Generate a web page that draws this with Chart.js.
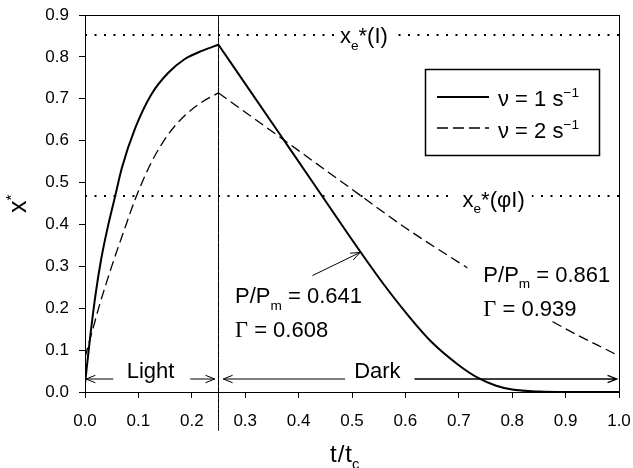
<!DOCTYPE html>
<html>
<head>
<meta charset="utf-8">
<script src="https://cdn.jsdelivr.net/npm/chart.js@4.4.1/dist/chart.umd.min.js"></script>
<style>
    body { margin: 0; background: #fff; }
    #wrap { width: 633px; height: 468px; }
</style>
</head>
<body>
<div id="wrap"><canvas id="graph" width="633" height="468"></canvas></div>
<script>
// valeurs (t/tc , x*)
const tSolidLight = [0, 0.01, 0.02, 0.03, 0.042, 0.056, 0.069, 0.094, 0.125, 0.156, 0.187, 0.22, 0.25];
const xSolidLight = [0.02, 0.135, 0.235, 0.315, 0.39, 0.465, 0.535, 0.63, 0.712, 0.762, 0.795, 0.815, 0.829];
const tSolidDark = [0.25, 0.371, 0.421, 0.515, 0.56, 0.605, 0.65, 0.70, 0.737, 0.77, 0.80, 0.85, 0.90, 1.0];
const xSolidDark = [0.829, 0.604, 0.511, 0.336, 0.256, 0.183, 0.118, 0.064, 0.033, 0.015, 0.006, 0.001, 0, 0];

const tDashLight = [0, 0.014, 0.025, 0.05, 0.073, 0.094, 0.125, 0.156, 0.187, 0.22, 0.25];
const xDashLight = [0.083, 0.147, 0.198, 0.30, 0.385, 0.46, 0.55, 0.615, 0.66, 0.693, 0.714];
const tDashDark = [0.25, 0.371, 0.515, 0.60, 0.708, 0.877, 1.0];
const xDashDark = [0.714, 0.603, 0.47, 0.392, 0.303, 0.167, 0.086];

const seriesLabels = ['ν = 1 s', 'ν = 2 s'];
const xeLevels = [0.852, 0.468];
const tSwitch = 0.25;

const FONT = '"Liberation Sans", Arial, sans-serif';
const SERIF = '"Liberation Serif", "Times New Roman", serif';

function toPoints(ts, xs) {
    let pts = [];
    for (let i = 0; i < ts.length; i++) {
        pts.push({ x: ts[i], y: xs[i] });
    }
    return pts;
}

// texte avec indices / exposants
function richText(ctx, x, y, parts, size, draw) {
    let cx = x;
    parts.forEach(p => {
        const kind = p[1] || '';
        let s = size, dy = 0, fam = FONT;
        if (kind === 'sub') { s = size * 0.62; dy = size * 0.3; }
        if (kind === 'sup') { s = size * 0.62; dy = -size * 0.42; }
        if (kind === 'serif') { fam = SERIF; s = size * 1.02; }
        ctx.font = s + 'px ' + fam;
        if (draw !== false) ctx.fillText(p[0], cx, y + dy);
        cx += ctx.measureText(p[0]).width + (p[2] || 0);
    });
    return cx - x;
}

function arrow(ctx, x1, y1, x2, y2) {
    const a = Math.atan2(y2 - y1, x2 - x1);
    const len = 10, w = 0.38;
    ctx.beginPath();
    ctx.moveTo(x1, y1);
    ctx.lineTo(x2, y2);
    ctx.moveTo(x2 - len * Math.cos(a - w), y2 - len * Math.sin(a - w));
    ctx.lineTo(x2, y2);
    ctx.lineTo(x2 - len * Math.cos(a + w), y2 - len * Math.sin(a + w));
    ctx.stroke();
}

const decor = {
    id: 'decor',
    afterDatasetsDraw(chart) {
        const ctx = chart.ctx;
        const sx = chart.scales.x, sy = chart.scales.y;
        const px = v => sx.getPixelForValue(v);
        const py = v => sy.getPixelForValue(v);
        const area = chart.chartArea;

        ctx.save();
        ctx.fillStyle = '#000';
        ctx.strokeStyle = '#000';
        ctx.textBaseline = 'alphabetic';
        ctx.textAlign = 'left';

        // étiquettes avec fond blanc
        function label(t, v, parts, size, pad) {
            const x = px(t), y = py(v);
            const w = richText(ctx, x, y, parts, size, false);
            if (pad) {
                ctx.fillStyle = '#fff';
                ctx.fillRect(x - pad[0], y - size * 0.95, w + pad[0] + pad[1], size * 1.35);
                ctx.fillStyle = '#000';
            }
            richText(ctx, x, y, parts, size);
        }

        label(0.4775, 0.832, [['x'], ['e', 'sub'], ['*(I)']], 22, [6, 6]);
        label(0.707, 0.442, [['x'], ['e', 'sub'], ['*(φI)']], 22, [8, 7]);

        label(0.281, 0.212, [['P/P'], ['m', 'sub'], [' = 0.641']], 22);
        label(0.281, 0.132, [['Γ', 'serif'], [' = 0.608']], 22);

        // bloc 0.861 : masque la courbe pointillée
        ctx.fillStyle = '#fff';
        ctx.fillRect(px(0.716), py(0.31), px(0.995) - px(0.716), py(0.172) - py(0.31));
        ctx.fillStyle = '#000';
        label(0.746, 0.263, [['P/P'], ['m', 'sub'], [' = 0.861']], 22);
        label(0.746, 0.181, [['Γ', 'serif'], [' = 0.939']], 22);

        label(0.078, 0.033, [['Light']], 22);
        label(0.504, 0.033, [['Dark']], 22);

        // flèches
        ctx.lineWidth = 1;
        const ya = py(0.031);
        arrow(ctx, px(0.053), ya, px(0.002), ya);
        arrow(ctx, px(0.197), ya, px(0.243), ya);
        arrow(ctx, px(0.487), ya, px(0.259), ya);
        ctx.lineWidth = 1.3;
        arrow(ctx, px(0.617), ya, px(0.996), ya);
        ctx.lineWidth = 1;
        arrow(ctx, px(0.426), py(0.278), px(0.515), py(0.333));

        // légende
        const lx = 425, ly = 69;
        ctx.lineWidth = 1.5;
        ctx.strokeRect(lx + 0.5, ly + 0.5, 174, 86);
        ctx.lineWidth = 2;
        ctx.beginPath();
        ctx.moveTo(lx + 12, ly + 28);
        ctx.lineTo(lx + 64, ly + 28);
        ctx.stroke();
        ctx.lineWidth = 1.3;
        ctx.setLineDash([11, 5]);
        ctx.beginPath();
        ctx.moveTo(lx + 12, ly + 59);
        ctx.lineTo(lx + 64, ly + 59);
        ctx.stroke();
        ctx.setLineDash([]);
        richText(ctx, lx + 73, ly + 37, [[seriesLabels[0]], ['−1', 'sup']], 22);
        richText(ctx, lx + 73, ly + 69, [[seriesLabels[1]], ['−1', 'sup']], 22);

        // cadre
        ctx.lineWidth = 1;
        ctx.strokeRect(area.left + 0.5, area.top + 0.5, area.right - area.left, area.bottom - area.top);

        // titres des axes
        ctx.save();
        ctx.translate(26, 213);
        ctx.rotate(-Math.PI / 2);
        richText(ctx, 0, 0, [['x'], ['*', 'sup']], 25);
        ctx.restore();
        richText(ctx, 330, 462, [['t', '', 1], ['/', '', 1], ['t'], ['c', 'sub']], 24);

        ctx.restore();
    }
};

function drawChart() {
    const context = document.getElementById('graph').getContext('2d');

    const datasets = [
        { data: toPoints(tSolidLight, xSolidLight), borderWidth: 2 },
        { data: toPoints(tSolidDark, xSolidDark), borderWidth: 2 },
        { data: toPoints(tDashLight, xDashLight), borderWidth: 1.3, borderDash: [10, 5] },
        { data: toPoints(tDashDark, xDashDark), borderWidth: 1.3, borderDash: [10, 5] },
        { data: [{ x: 0, y: xeLevels[0] }, { x: 1, y: xeLevels[0] }], borderWidth: 2, borderDash: [2, 7.5] },
        { data: [{ x: 0, y: xeLevels[1] }, { x: 1, y: xeLevels[1] }], borderWidth: 2, borderDash: [2, 7.5] },
        { data: [{ x: tSwitch, y: -0.093 }, { x: tSwitch, y: 0.9 }], borderWidth: 1, clip: false }
    ];
    datasets.forEach(d => {
        d.showLine = true;
        d.pointRadius = 0;
        d.borderColor = '#000';
        d.fill = false;
        d.cubicInterpolationMode = 'monotone';
    });

    const axisFont = { family: FONT, size: 17 };

    let options = {
        responsive: false,
        animation: false,
        devicePixelRatio: 1,
        layout: { padding: { left: 0, right: 14, top: 15, bottom: 0 } },
        plugins: { legend: { display: false }, tooltip: { enabled: false } },
        scales: {
            x: {
                type: 'linear', min: 0, max: 1,
                ticks: { stepSize: 0.1, color: '#000', font: axisFont, padding: 13, callback: v => v.toFixed(1) },
                grid: { drawOnChartArea: false, tickLength: 6, tickColor: '#000' },
                border: { display: true, color: '#000', width: 1 },
                afterFit: scale => {
                    scale.height = 76;
                    scale.paddingLeft = 0;
                    scale.paddingRight = 0;
                }
            },
            y: {
                type: 'linear', min: 0, max: 0.9,
                ticks: { stepSize: 0.1, color: '#000', font: axisFont, padding: 10, callback: v => v.toFixed(1) },
                grid: { drawOnChartArea: false, tickLength: 6, tickColor: '#000' },
                border: { display: true, color: '#000', width: 1 },
                afterFit: scale => {
                    scale.width = 85;
                    scale.paddingTop = 0;
                    scale.paddingBottom = 0;
                }
            }
        }
    };

    let config = {
        type: 'scatter',
        data: { datasets: datasets },
        options: options,
        plugins: [decor]
    };

    let graph = new Chart(context, config);
}

window.addEventListener('load', () => {
    drawChart();
});
</script>
</body>
</html>
